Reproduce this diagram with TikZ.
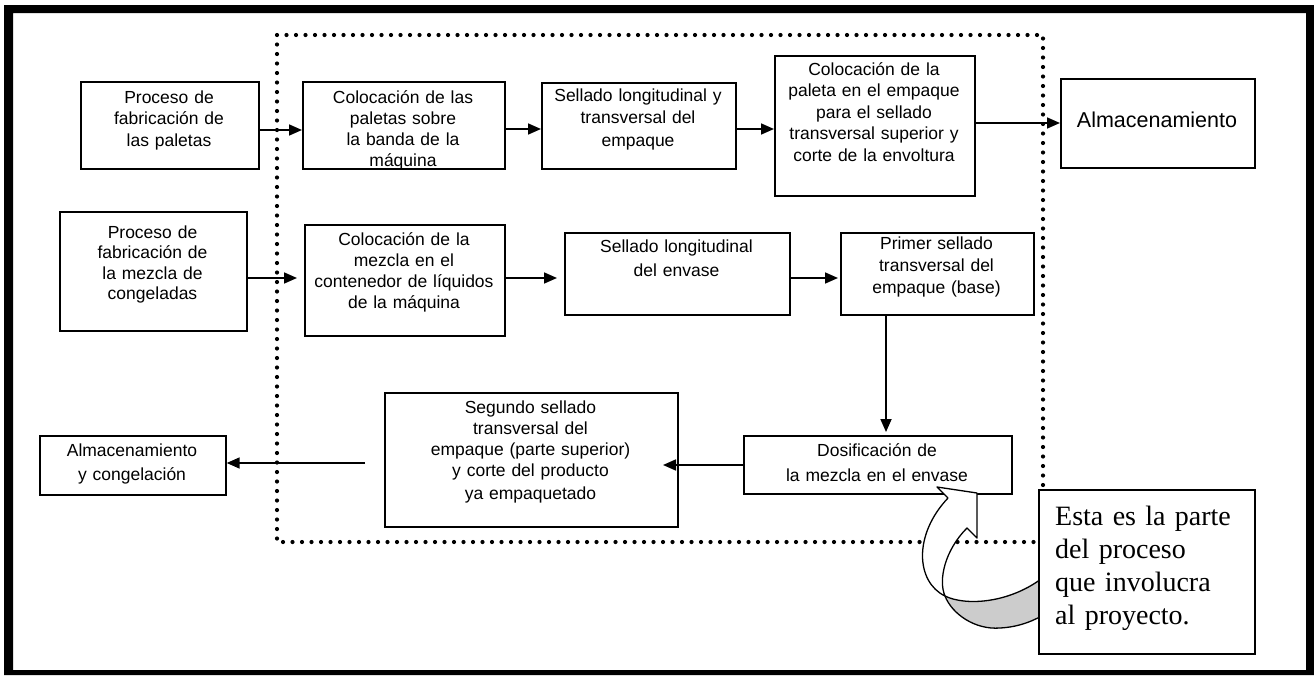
\documentclass[tikz,border=0pt]{standalone}
\usepackage{fontspec}
\usetikzlibrary{arrows.meta}
\newfontfamily\boxfont{Liberation Sans}
\newfontfamily\notefont{Liberation Serif}
\tikzset{
  bx/.style={draw, line width=1.7pt, inner sep=0pt, anchor=north west, fill=white},
  tx/.style={font=\boxfont\fontsize{17.5}{#1}\selectfont, align=center, inner sep=0pt, anchor=base},
  arr/.style={line width=1.7pt, -{Triangle[length=13pt,width=11pt]}},
  dotline/.style={line width=4.2pt, dash pattern=on 0pt off 9.5pt, line cap=round},
  ribbon/.style={line width=1.3pt, line join=round}
}
\begin{document}
\begin{tikzpicture}[x=1pt,y=-1pt]
\useasboundingbox (0,0) rectangle (1314,675);
\fill[white] (0,0) rectangle (1314,675);
% outer frame
\fill[black, even odd rule] (4,5) rectangle (1314,675) (13,13) rectangle (1306,670);
% dotted region
\draw[dotline] (277,35) rectangle (1043,542);

% boxes
\node[bx, minimum width=178, minimum height=87] (b1) at (80,81) {};
\node[bx, minimum width=202, minimum height=87] (b2) at (302,81) {};
\node[bx, minimum width=194, minimum height=86] (b3) at (541,82) {};
\node[bx, minimum width=200, minimum height=140] (b4) at (774,55) {};
\node[bx, minimum width=194, minimum height=89] (b5) at (1060,78) {};
\node[bx, minimum width=187, minimum height=119] (b6) at (59,211) {};
\node[bx, minimum width=200, minimum height=111] (b7) at (304,224) {};
\node[bx, minimum width=225, minimum height=82] (b8) at (564,232) {};
\node[bx, minimum width=193, minimum height=82] (b9) at (840,232) {};
\node[bx, minimum width=268, minimum height=58] (b10) at (743,435) {};
\node[bx, minimum width=293, minimum height=134] (b11) at (384,392) {};
\node[bx, minimum width=186, minimum height=59] (b12) at (39,435) {};

% texts
\node[tx=21.5, text width=174] (t1) at (169,103) {Proceso de\\fabricación de\\las paletas};
\node[tx=21, text width=198] (t2) at (403,103) {Colocación de las\\paletas sobre\\la banda de la\\máquina};
\node[tx=22.5, text width=190] (t3) at (638,101) {Sellado longitudinal y\\transversal del\\empaque};
\node[tx=21.5, text width=196] (t4) at (874,75) {Colocación de la\\paleta en el empaque\\para el sellado\\transversal superior y\\corte de la envoltura};
\node[tx=26, text width=190, font=\boxfont\fontsize{21.5}{26}\selectfont] (t5) at (1157,127) {Almacenamiento};
\node[tx=20.5, text width=183] (t6) at (152.5,238) {Proceso de\\fabricación de\\la mezcla de\\congeladas};
\node[tx=21.3, text width=198] (t7) at (404,245) {Colocación de la\\mezcla en el\\contenedor de líquidos\\de la máquina};
\node[tx=24, text width=221] (t8) at (676.5,252) {Sellado longitudinal\\del envase};
\node[tx=22, text width=189] (t9) at (936.5,249) {Primer sellado\\transversal del\\empaque (base)};
\node[tx=25, text width=264] (t10) at (877,456) {Dosificación de\\la mezcla en el envase};
\node[tx=21, text width=289] (t11) at (530.5,413) {Segundo sellado\\transversal del\\empaque (parte superior)\\y corte del producto\\[2.5pt]ya empaquetado};
\node[tx=24, text width=182] (t12) at (132,456) {Almacenamiento\\y congelación};

% connectors
\draw[arr] (b1.east |- 0,130) -- (b2.west |- 0,130);
\draw[arr] (b2.east |- 0,129) -- (b3.west |- 0,129);
\draw[arr] (b3.east |- 0,129) -- (b4.west |- 0,129);
\draw[arr] (b4.east |- 0,123) -- (b5.west |- 0,123);
\draw[arr, shorten >=7pt] (b6.east |- 0,278) -- (b7.west |- 0,278);
\draw[arr, shorten >=7pt] (b7.east |- 0,278) -- (b8.west |- 0,278);
\draw[arr, shorten >=2pt] (b8.east |- 0,278) -- (b9.west |- 0,278);
\draw[arr, shorten >=3pt] (b9.south -| 886,0) -- (b10.north -| 886,0);
\coordinate (c11) at (663,465);
\draw[arr] (b10.west |- 0,465) -- (c11);
\coordinate (c12) at (365,463);
\draw[arr] (c12) -- (b12.east |- 0,463);

% curved block arrow
\coordinate (X) at (945,596);
\fill[gray!40] (X) .. controls (965,606) and (1010,604) .. (1045,576) -- (1045,614)
  .. controls (1035,620) and (1020,627) .. (1000,628)
  .. controls (975,630) and (952,614) .. (X) -- cycle;
\draw[ribbon] (X) .. controls (965,606) and (1010,604) .. (1045,576);
\draw[ribbon] (X) .. controls (952,614) and (975,630) .. (1000,628)
  .. controls (1020,627) and (1035,620) .. (1045,614);
\filldraw[ribbon, fill=white] (937,487) -- (977,493) -- (977,538) -- (967,528)
  .. controls (945,550) and (938,580) .. (X)
  .. controls (916,582) and (913,535) .. (948,498) -- cycle;

% note box
\node[bx, minimum width=216, minimum height=164] (nb) at (1038,489) {};
\node[font=\notefont\fontsize{28}{33.3}\selectfont, align=left, text width=195, inner sep=0pt, anchor=base west] (nt) at (1055,525) {Esta es la parte\\del proceso\\que involucra\\al proyecto.};
\end{tikzpicture}
\end{document}
